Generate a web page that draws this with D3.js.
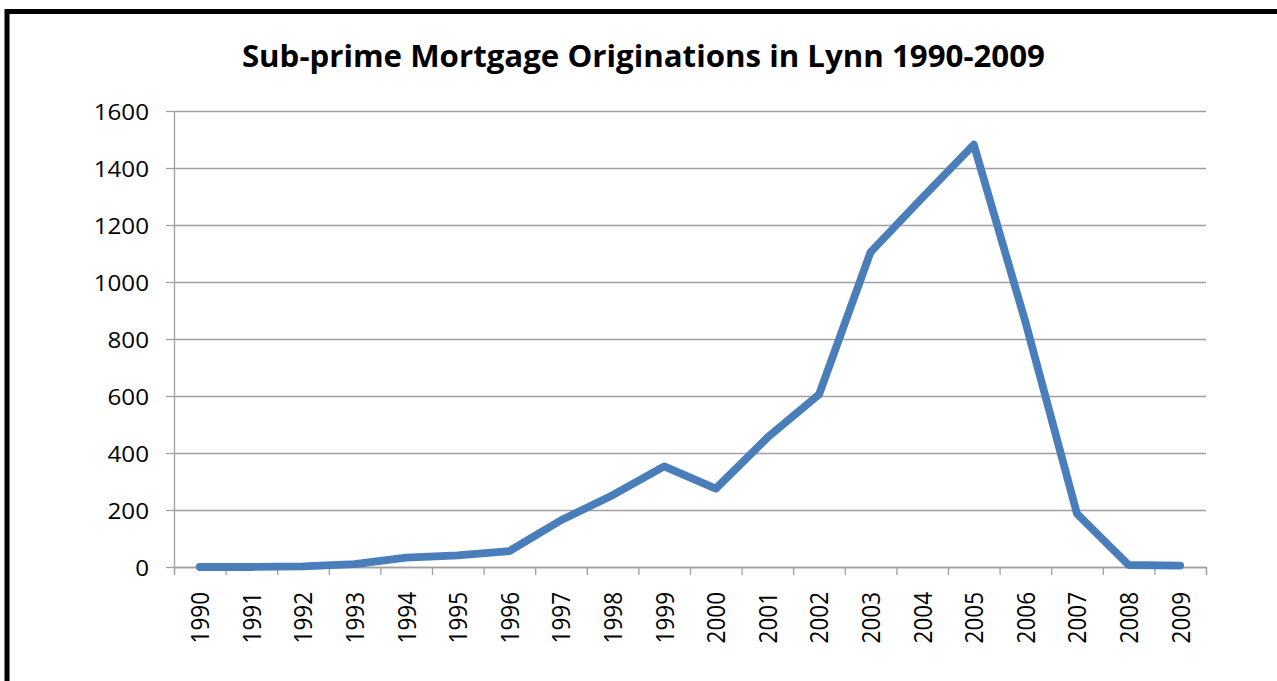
<!DOCTYPE html>
<html>
<head>
<meta charset="utf-8">
<script src="https://cdn.jsdelivr.net/npm/d3@7/dist/d3.min.js"></script>
<style>
  html, body { margin: 0; padding: 0; background: #fff; overflow: hidden; }
  svg { display: block; }
  text { font-family: "Open Sans", "Noto Sans", sans-serif; fill: #000; }
</style>
</head>
<body>
<svg id="chart" width="1277" height="681"></svg>
<script>
const title = "Sub-prime Mortgage Originations in Lynn 1990-2009";
const years = ["1990","1991","1992","1993","1994","1995","1996","1997","1998","1999",
               "2000","2001","2002","2003","2004","2005","2006","2007","2008","2009"];
const originations = [0, 0, 2, 10, 33, 41, 56, 164, 252, 353,
                      275, 454, 605, 1105, 1295, 1482, 860, 187, 7, 5];
const yTicks = [0, 200, 400, 600, 800, 1000, 1200, 1400, 1600];

(function () {
const svg = d3.select("#chart");
const W = 1277, H = 681;
const pLeft = 174, pRight = 1206, pTop = 111, pBottom = 567;
const stretch = 1.1;

// outer border
svg.append("rect")
  .attr("x", 7).attr("y", 11.5)
  .attr("width", W + 20).attr("height", H + 20)
  .attr("fill", "#fff").attr("stroke", "#000").attr("stroke-width", 5);

const x = d3.scaleBand().domain(years).range([pLeft, pRight]).paddingInner(0).paddingOuter(0);
const xi = d3.scaleLinear().domain([0, years.length]).range([pLeft, pRight]);
const y = d3.scaleLinear().domain([0, 1600]).range([pBottom, pTop]);

const grey = "#a0a0a0";

// gridlines
const grid = svg.append("g").attr("transform", `translate(${pLeft},0)`)
  .call(d3.axisLeft(y).tickValues(yTicks).tickSize(-(pRight - pLeft)).tickFormat(""));
grid.select(".domain").remove();
grid.selectAll("line").attr("stroke", grey).attr("stroke-width", 1.3);

// y axis with labels
const ya = svg.append("g").attr("transform", `translate(${pLeft},0)`)
  .call(d3.axisLeft(y).tickValues(yTicks).tickFormat(d3.format("d"))
        .tickSize(8).tickPadding(17).tickSizeOuter(0));
ya.select(".domain").attr("stroke", grey).attr("stroke-width", 1.3);
ya.selectAll("line").attr("stroke", grey).attr("stroke-width", 1.3);
ya.selectAll("text")
  .attr("font-size", 22)
  .attr("font-family", "'Open Sans', sans-serif")
  .attr("fill", "#000")
  .attr("dy", null)
  .attr("dominant-baseline", "central")
  .each(function () {
    const t = d3.select(this);
    const tx = +t.attr("x");
    t.attr("x", 0).attr("transform", `translate(${tx},0) scale(${stretch},1)`);
  });

// bottom tick marks at category boundaries
const xb = svg.append("g").attr("transform", `translate(0,${pBottom})`)
  .call(d3.axisBottom(xi).tickValues(d3.range(0, years.length + 1)).tickSize(8).tickFormat(""));
xb.select(".domain").attr("stroke", grey).attr("stroke-width", 1.3);
xb.selectAll("line").attr("stroke", grey).attr("stroke-width", 1.3);

// x labels (rotated)
const xl = svg.append("g").attr("transform", `translate(0,${pBottom})`)
  .call(d3.axisBottom(x).tickSize(0).tickSizeOuter(0));
xl.select(".domain").remove();
xl.selectAll("text")
  .attr("font-size", 22.5)
  .attr("font-family", "'Open Sans', sans-serif")
  .attr("fill", "#000")
  .attr("x", 0).attr("y", 0).attr("dy", null)
  .attr("text-anchor", "end")
  .attr("dominant-baseline", "central")
  .attr("transform", `translate(0,25) scale(${stretch},1) rotate(-90)`);

// line
const line = d3.line()
  .x((d, i) => x(years[i]) + x.bandwidth() / 2)
  .y(d => y(d));
svg.append("path")
  .datum(originations)
  .attr("d", line)
  .attr("fill", "none")
  .attr("stroke", "#4a7ebb")
  .attr("stroke-width", 7.8)
  .attr("stroke-linejoin", "round")
  .attr("stroke-linecap", "round");

// title
svg.append("text")
  .attr("x", 643.4).attr("y", 67.3)
  .attr("text-anchor", "middle")
  .attr("font-size", 31)
  .attr("font-weight", "bold")
  .attr("font-family", "'Open Sans', sans-serif")
  .attr("textLength", 803)
  .attr("lengthAdjust", "spacingAndGlyphs")
  .text(title);
})();
</script>
</body>
</html>
